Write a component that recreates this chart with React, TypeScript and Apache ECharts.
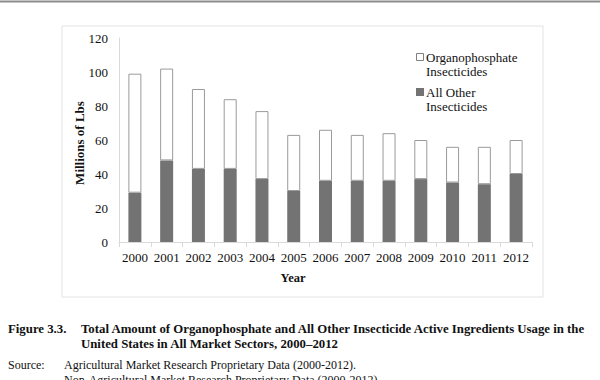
import React, { useEffect, useRef } from "react";
import * as echarts from "echarts";

const years = ["2000", "2001", "2002", "2003", "2004", "2005", "2006", "2007", "2008", "2009", "2010", "2011", "2012"];
const allOther = [29, 48, 43, 43, 37, 30, 36, 36, 36, 37, 35, 34, 40];
const organophosphate = [70, 54, 47, 41, 40, 33, 30, 27, 28, 23, 21, 22, 20];
const yTicks = { min: 0, max: 120, interval: 20 };

const SERIF = "'Liberation Serif', 'Times New Roman', serif";

export default function App() {
  const ref = useRef<HTMLDivElement>(null);
  useEffect(() => {
    document.body.style.margin = "0";
    const chart = echarts.init(ref.current!, null, { renderer: "svg" });
    chart.setOption({
      animation: false,
      backgroundColor: "#ffffff",
      textStyle: { fontFamily: SERIF },
      grid: { left: 119, right: 68, top: 38, bottom: 138 },
      xAxis: {
        type: "category",
        data: years,
        boundaryGap: true,
        axisLine: { show: true, lineStyle: { color: "#d9d9d9", width: 1 } },
        axisTick: { show: true, length: 5, alignWithLabel: false, lineStyle: { color: "#d9d9d9" } },
        axisLabel: { color: "#111", fontSize: 13, fontFamily: SERIF, margin: 9, interval: 0 },
      },
      yAxis: {
        type: "value",
        min: yTicks.min,
        max: yTicks.max,
        interval: yTicks.interval,
        axisLine: { show: true, lineStyle: { color: "#d9d9d9", width: 1 } },
        axisTick: { show: false },
        splitLine: { show: false },
        axisLabel: { color: "#111", fontSize: 13, fontFamily: SERIF, margin: 11 },
      },
      series: [
        {
          name: "All Other Insecticides",
          type: "bar",
          stack: "total",
          data: allOther,
          barWidth: 13,
          itemStyle: { color: "#737373" },
        },
        {
          name: "Organophosphate Insecticides",
          type: "bar",
          stack: "total",
          data: organophosphate,
          barWidth: 13,
          itemStyle: { color: "#ffffff", borderColor: "#9a9a9a", borderWidth: 1 },
        },
      ],
      graphic: [
        { type: "line", shape: { x1: 0, y1: 1.5, x2: 600, y2: 1.5 }, style: { stroke: "#8c8c8c", lineWidth: 2 } },
        { type: "rect", shape: { x: 62, y: 26, width: 481, height: 271 }, style: { fill: "none", stroke: "#e3e3e3", lineWidth: 1 } },
        {
          type: "text", x: 79, y: 143, rotation: Math.PI / 2,
          style: { text: "Millions of Lbs", font: `bold 13px ${SERIF}`, fill: "#111", align: "center", verticalAlign: "middle" },
        },
        { type: "rect", shape: { x: 416.5, y: 53.5, width: 7, height: 7 }, style: { fill: "#ffffff", stroke: "#808080", lineWidth: 1 } },
        {
          type: "text", x: 426, y: 50,
          style: { text: "Organophosphate\nInsecticides", font: `13px ${SERIF}`, fill: "#111", lineHeight: 14.5 },
        },
        { type: "rect", shape: { x: 416, y: 88, width: 8, height: 8 }, style: { fill: "#737373" } },
        {
          type: "text", x: 426, y: 85,
          style: { text: "All Other\nInsecticides", font: `13px ${SERIF}`, fill: "#111", lineHeight: 14.5 },
        },
        {
          type: "text", x: 293, y: 278,
          style: { text: "Year", font: `bold 12.5px ${SERIF}`, fill: "#111", align: "center", verticalAlign: "middle" },
        },
        {
          type: "text", x: 8, y: 329,
          style: { text: "Figure 3.3.", font: `bold 12.8px ${SERIF}`, fill: "#111", verticalAlign: "middle" },
        },
        {
          type: "text", x: 81, y: 329,
          style: { text: "Total Amount of Organophosphate and All Other Insecticide Active Ingredients Usage in the", font: `bold 12.8px ${SERIF}`, fill: "#111", verticalAlign: "middle" },
        },
        {
          type: "text", x: 81, y: 344,
          style: { text: "United States in All Market Sectors, 2000–2012", font: `bold 12.8px ${SERIF}`, fill: "#111", verticalAlign: "middle" },
        },
        {
          type: "text", x: 8, y: 365,
          style: { text: "Source:", font: `12px ${SERIF}`, fill: "#111", verticalAlign: "middle" },
        },
        {
          type: "text", x: 64, y: 365,
          style: { text: "Agricultural Market Research Proprietary Data (2000-2012).", font: `12px ${SERIF}`, fill: "#111", verticalAlign: "middle" },
        },
        {
          type: "text", x: 64, y: 380,
          style: { text: "Non-Agricultural Market Research Proprietary Data (2000-2012).", font: `12px ${SERIF}`, fill: "#111", verticalAlign: "middle" },
        },
      ],
    });
    return () => chart.dispose();
  }, []);
  return <div ref={ref} style={{ position: "fixed", left: 0, top: 0, width: 600, height: 380 }} />;
}
